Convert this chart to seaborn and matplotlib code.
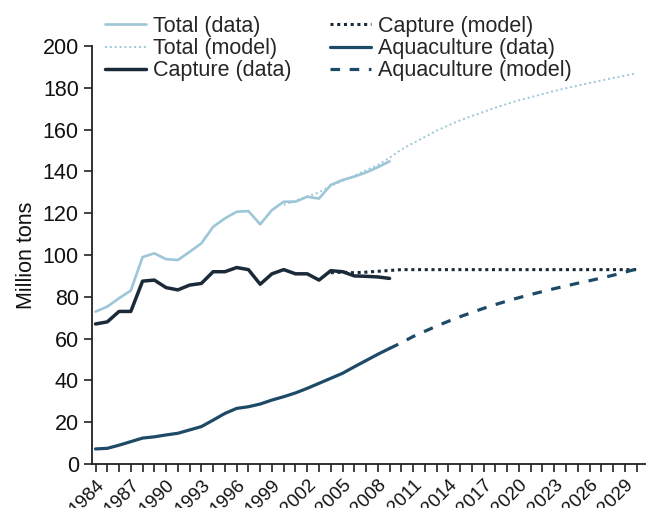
import numpy as np
import pandas as pd
import seaborn as sns
import matplotlib.pyplot as plt

# observed data, 1984-2009 (million tons)
data_years = list(range(1984, 2010))
total_data = [72.9, 75.3, 79.3, 83.0, 99.0, 100.8, 98.0, 97.6, 101.5, 105.6,
              113.5, 117.5, 120.7, 121.0, 114.7, 121.5, 125.5, 125.5, 127.9, 127.0,
              133.5, 135.9, 137.5, 139.5, 142.0, 144.8]
capture_data = [67.0, 68.0, 73.0, 73.0, 87.5, 88.0, 84.4, 83.3, 85.6, 86.4,
                92.0, 92.0, 94.0, 93.0, 86.0, 91.0, 93.0, 91.0, 91.0, 88.0,
                92.5, 92.0, 90.0, 89.8, 89.5, 88.8]
aqua_data = [7.2, 7.5, 9.0, 10.7, 12.4, 13.0, 13.9, 14.7, 16.3, 17.9,
             21.0, 24.2, 26.6, 27.4, 28.7, 30.6, 32.2, 34.0, 36.2, 38.6,
             41.0, 43.4, 46.5, 49.5, 52.5, 55.3]

# model curves
total_model_years = list(range(2000, 2031))
total_model = [124.0, 126.0, 128.0, 130.0, 133.0, 135.5, 138.0, 140.5, 143.0, 146.5,
               150.5, 153.5, 156.5, 159.5, 162.0, 164.5, 166.5, 168.5, 170.5, 172.3,
               174.0, 175.5, 177.0, 178.5, 179.8, 181.0, 182.3, 183.5, 184.7, 185.8,
               187.0]
capture_model_years = list(range(2004, 2031))
capture_model = [91.5, 91.8, 91.5, 91.8, 92.2, 92.6] + [93.0] * 21
aqua_model_years = list(range(2009, 2031))
aqua_model = [55.3, 58.0, 61.0, 63.5, 66.0, 68.3, 70.5, 72.5, 74.5, 76.3,
              78.0, 79.6, 81.1, 82.5, 83.9, 85.2, 86.5, 87.7, 89.0, 90.3,
              91.8, 93.3]

sns.set_style('ticks')
plt.rcParams['font.family'] = ['Liberation Sans', 'DejaVu Sans']

c_total = '#9dc6d8'
c_capture = '#1b2a38'
c_aqua = '#1d4a66'
fs = 15.5

fig = plt.figure(figsize=(6.46, 5.08), dpi=100)
ax = fig.add_axes([92 / 646, 44 / 508, 1 - 92 / 646, 418 / 508])

sns.lineplot(x=data_years, y=total_data, ax=ax, color=c_total, lw=1.9,
             label='Total (data)')
sns.lineplot(x=total_model_years, y=total_model, ax=ax, color=c_total, lw=1.4,
             linestyle=(0, (1, 1.5)), label='Total (model)')
sns.lineplot(x=data_years, y=capture_data, ax=ax, color=c_capture, lw=2.5,
             label='Capture (data)')
sns.lineplot(x=capture_model_years, y=capture_model, ax=ax, color=c_capture, lw=2.2,
             linestyle=(0, (1, 1.2)), label='Capture (model)')
sns.lineplot(x=data_years, y=aqua_data, ax=ax, color=c_aqua, lw=2.3,
             label='Aquaculture (data)')
sns.lineplot(x=aqua_model_years, y=aqua_model, ax=ax, color=c_aqua, lw=2.3,
             linestyle=(0, (3, 3)), label='Aquaculture (model)')

ax.set_xlim(1983.7, 2030.8)
ax.set_ylim(0, 200)
ax.set_yticks(np.arange(0, 201, 20))
ax.set_xticks(np.arange(1984, 2031, 1))
ax.set_xticklabels([str(y) if (y - 1984) % 3 == 0 else '' for y in range(1984, 2031)],
                   rotation=45, ha='right', rotation_mode='anchor')
ax.tick_params(axis='both', labelsize=fs, length=6, width=1.2, color='#222222',
               labelcolor='#111111')
ax.tick_params(axis='x', labelsize=13.5, pad=3)
ax.set_ylabel('Million tons', fontsize=fs, color='#111111', labelpad=4)
ax.set_xlabel('')
sns.despine(ax=ax)
for s in ['left', 'bottom']:
    ax.spines[s].set_linewidth(1.3)
    ax.spines[s].set_color('#222222')

ax.legend(loc='upper left', bbox_to_anchor=(105 / 646, 1 - 16 / 508),
          bbox_transform=fig.transFigure, ncol=2, frameon=False, fontsize=fs,
          handlelength=1.9, handletextpad=0.35, columnspacing=1.75,
          labelspacing=0.05, borderpad=0, borderaxespad=0)

fig.savefig('out.png', dpi=100)
